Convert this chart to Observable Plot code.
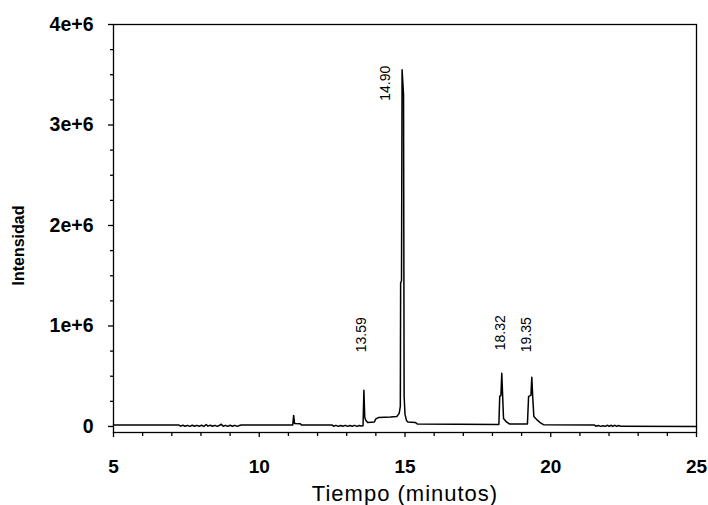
<!DOCTYPE html>
<html>
<head>
<meta charset="utf-8">
<script src="https://cdn.jsdelivr.net/npm/d3@7"></script>
<script src="https://cdn.jsdelivr.net/npm/@observablehq/plot@0.6"></script>
<style>
  body { margin: 0; background: #fff; }
  svg { display: block; }
</style>
</head>
<body>
<div id="chart"></div>
<script>
// Chromatogram trace: retention time (min) and detector intensity
const time = [
  5.00, 7.23, 7.30, 7.38, 7.46, 7.54, 7.62, 7.70, 7.78, 7.86, 7.94, 8.02, 8.10, 8.18, 8.24,
  8.32, 8.40, 8.48, 8.56, 8.64, 8.70, 8.76, 8.84, 8.92, 9.00, 9.08, 9.16, 9.24, 9.32, 9.38,
  11.15, 11.18, 11.21, 11.40, 11.45, 12.50, 12.55, 12.63, 12.71, 12.79, 12.87, 12.95, 13.03,
  13.11, 13.19, 13.27, 13.35, 13.43, 13.50, 13.56, 13.59, 13.62, 13.66, 13.72, 13.95, 14.00,
  14.10, 14.50, 14.72, 14.80, 14.84, 14.85, 14.88, 14.90, 14.95, 14.97, 15.00, 15.05, 15.10,
  15.35, 15.42, 18.22, 18.25, 18.29, 18.32, 18.35, 18.38, 18.48, 18.58, 19.20, 19.24, 19.32,
  19.35, 19.38, 19.42, 19.55, 19.65, 19.75, 21.50, 21.55, 21.63, 21.71, 21.79, 21.87, 21.95,
  22.00, 22.08, 22.12, 22.20, 22.26, 22.33, 22.40, 25.00
];
const intensity = [
  15000, 15000, 3000, 12000, 2000, 11000, 1000, 12000, 2000, 11000, 2000, 12000, 1000, 20000, 3000,
  12000, 2000, 11000, 1000, 12000, 22000, 2000, 11000, 1000, 12000, 2000, 11000, 1000, 10000, 15000,
  15000, 110000, 30000, 28000, 15000, 15000, 3000, 11000, 1000, 10000, 2000, 11000, 1000,
  10000, 2000, 11000, 1000, 10000, 4000, 8000, 360000, 90000, 60000, 40000, 45000, 75000,
  90000, 95000, 100000, 130000, 200000, 1430000, 1450000, 3550000, 3300000, 300000, 120000, 60000, 45000,
  40000, 25000, 20000, 300000, 310000, 530000, 300000, 80000, 45000, 25000, 25000, 300000, 310000,
  490000, 300000, 100000, 60000, 35000, 18000, 15000, 3000, 9000, 1000, 8000, 1000, 12000,
  1000, 12000, 1000, 12000, 1000, 10000, 1000, 0
];

// Annotated peaks (retention time labels)
const peakTimes = [13.59, 14.90, 18.32, 19.35];
const peakLabels = ["13.59", "14.90", "18.32", "19.35"];

// Axis ticks
const xTicks = [5, 10, 15, 20, 25];
const xTickLabels = ["5", "10", "15", "20", "25"];
const xMinorTicks = [6, 7, 8, 9, 11, 12, 13, 14, 16, 17, 18, 19, 21, 22, 23, 24];
const yTicks = [0, 1e6, 2e6, 3e6, 4e6];
const yTickLabels = ["0", "1e+6", "2e+6", "3e+6", "4e+6"];
const yMinorTicks = [250000, 500000, 750000, 1250000, 1500000, 1750000, 2250000, 2500000,
  2750000, 3250000, 3500000, 3750000];

const trace = time.map((t, i) => ({time: t, value: intensity[i]}));
const peaks = peakTimes.map((t, i) => ({
  time: t,
  value: intensity[time.indexOf(t)],
  label: peakLabels[i]
}));

// Per-label screen offsets [dx, dy] from the peak apex
const labelNudge = [[-2, -38], [-17, 31], [-1, -23], [-5, -25]];

const font = "'Liberation Sans', Arial, Helvetica, sans-serif";

const chart = Plot.plot({
  width: 708,
  height: 505,
  marginLeft: 113,
  marginRight: 12,
  marginTop: 24,
  marginBottom: 73,
  style: {fontFamily: font, color: "black", background: "white"},
  x: {domain: [5, 25], label: null},
  y: {domain: [-60000, 4000000], label: null},
  marks: [
    Plot.frame({stroke: "black", strokeWidth: 1.3}),
    Plot.axisX(xTicks, {
      tickSize: 5, tickPadding: 22, strokeWidth: 1.3,
      tickFormat: d => xTickLabels[xTicks.indexOf(d)],
      fontSize: 19, fontWeight: "bold", label: null
    }),
    Plot.axisX(xMinorTicks, {tickSize: 4, strokeWidth: 1.3, text: null, label: null}),
    Plot.axisY(yTicks, {
      tickSize: 5, tickPadding: 15, strokeWidth: 1.3,
      tickFormat: d => yTickLabels[yTicks.indexOf(d)],
      fontSize: 19.5, fontWeight: "bold", label: null
    }),
    Plot.axisY(yMinorTicks, {tickSize: 3, strokeWidth: 1.3, text: null, label: null}),
    Plot.line(trace, {x: "time", y: "value", stroke: "black", strokeWidth: 1.5}),
    ...peaks.map((p, i) => Plot.text([p], {
      x: "time", y: "value", text: "label",
      rotate: -90, textAnchor: "start", lineAnchor: "middle",
      dx: labelNudge[i][0], dy: labelNudge[i][1],
      fontSize: 14, fill: "black"
    })),
    Plot.text(["Tiempo (minutos)"], {
      frameAnchor: "bottom", text: d => d, dy: 61, lineAnchor: "middle",
      fontSize: 22, fill: "black"
    }),
    Plot.text(["Intensidad"], {
      frameAnchor: "left", text: d => d, rotate: -90, dx: -95, dy: 17,
      textAnchor: "middle", lineAnchor: "middle",
      fontSize: 16, fontWeight: "bold", fill: "black"
    })
  ]
});

// Slightly widen the x-axis title
d3.select(chart).selectAll("text")
  .filter(function () { return this.textContent === "Tiempo (minutos)"; })
  .attr("letter-spacing", "1px");

document.getElementById("chart").appendChild(chart);
</script>
</body>
</html>
